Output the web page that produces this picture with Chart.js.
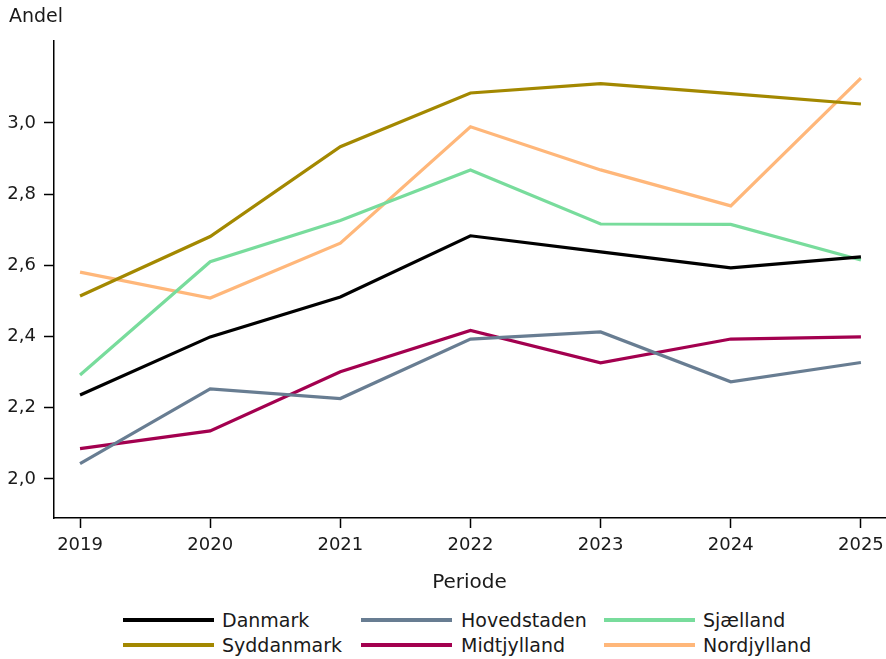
<!DOCTYPE html>
<html>
<head>
<meta charset="utf-8">
<script src="https://cdn.jsdelivr.net/npm/chart.js@4/dist/chart.umd.min.js"></script>
<style>
  html, body { margin: 0; padding: 0; background: #fff; }
  body { width: 886px; height: 659px; position: relative; overflow: hidden; font-family: "DejaVu Sans", sans-serif; color: #1a1a1a; }
  #wrap { position: absolute; left: 0; top: 0; width: 886px; height: 600px; }
  #ytitle { position: absolute; left: 9px; top: 3px; font-size: 19px; line-height: 24px; }
  .lg { position: absolute; font-size: 19px; line-height: 24px; white-space: nowrap; }
  .lg .sw { position: absolute; left: 0; top: -2px; height: 4px; width: 91px; }
  .lg .tx { position: absolute; top: -12px; }
</style>
</head>
<body>
<div id="wrap"><canvas id="c" width="886" height="600"></canvas></div>
<div id="ytitle">Andel</div>
<div id="legend"></div>
<script>
const years = [2019, 2020, 2021, 2022, 2023, 2024, 2025];
const yTickValues = [2.0, 2.2, 2.4, 2.6, 2.8, 3.0];

const danmark     = [2.236, 2.399, 2.511, 2.683, 2.638, 2.593, 2.624];
const hovedstaden = [2.043, 2.253, 2.226, 2.393, 2.413, 2.273, 2.327];
const sjaelland   = [2.292, 2.610, 2.726, 2.868, 2.716, 2.715, 2.615];
const syddanmark  = [2.514, 2.681, 2.933, 3.084, 3.110, 3.082, 3.053];
const midtjylland = [2.085, 2.135, 2.301, 2.417, 2.326, 2.393, 2.399];
const nordjylland = [2.581, 2.508, 2.662, 2.989, 2.868, 2.767, 3.126];

const seriesNames = ["Danmark", "Hovedstaden", "Sjælland", "Syddanmark", "Midtjylland", "Nordjylland"];
const seriesValues = [danmark, hovedstaden, sjaelland, syddanmark, midtjylland, nordjylland];
const seriesColors = ["#000000", "#687d92", "#78dc9c", "#a38800", "#a3004f", "#ffb77a"];

const datasets = seriesNames.map((name, i) => ({
  label: name,
  data: years.map((yr, j) => ({ x: yr, y: seriesValues[i][j] })),
  borderColor: seriesColors[i],
  backgroundColor: seriesColors[i],
  borderWidth: 3.2,
  pointRadius: 0,
  tension: 0,
  fill: false,
  order: i
}));

const tickFont = { family: "DejaVu Sans", size: 18 };
const titleFont = { family: "DejaVu Sans", size: 20 };

new Chart(document.getElementById('c'), {
  type: 'line',
  data: { datasets },
  options: {
    responsive: false,
    animation: false,
    layout: { padding: { left: 0, right: 1, top: 41, bottom: 5 } },
    plugins: { legend: { display: false }, tooltip: { enabled: false } },
    scales: {
      x: {
        type: 'linear',
        min: 2018.8,
        max: 2025.185,
        afterBuildTicks: s => { s.ticks = years.map(v => ({ value: v })); },
        afterFit: s => { s.height = 77; s.paddingLeft = 0; s.paddingRight = 0; },
        ticks: { color: '#1a1a1a', font: tickFont, padding: 7, callback: v => String(v), maxRotation: 0 },
        grid: { drawOnChartArea: false, drawTicks: true, tickLength: 10, color: '#000', tickWidth: 1.5 },
        border: { color: '#000', width: 1.5 },
        title: { display: true, text: 'Periode', color: '#1a1a1a', font: titleFont, padding: { top: 4, bottom: 0 } }
      },
      y: {
        type: 'linear',
        min: 1.8904,
        max: 3.230,
        afterBuildTicks: s => { s.ticks = yTickValues.map(v => ({ value: v })); },
        afterFit: s => { s.width = 54; s.paddingTop = 0; s.paddingBottom = 0; },
        ticks: { color: '#1a1a1a', font: tickFont, padding: 8, callback: v => v.toFixed(1).replace('.', ',') },
        grid: { drawOnChartArea: false, drawTicks: true, tickLength: 10, color: '#000', tickWidth: 1.5 },
        border: { color: '#000', width: 1.5 }
      }
    }
  }
});

// HTML legend built from the series arrays
const legendSwatchX = [123, 361, 604];
const legendTextX = [222, 461, 703];
const legendRowY = [620, 645];
const legendOrder = ["Danmark", "Hovedstaden", "Sjælland", "Syddanmark", "Midtjylland", "Nordjylland"];
const lg = document.getElementById('legend');
legendOrder.forEach((name, k) => {
  const i = seriesNames.indexOf(name);
  const col = k % 3, row = Math.floor(k / 3);
  const el = document.createElement('div');
  el.className = 'lg';
  el.style.left = legendSwatchX[col] + 'px';
  el.style.top = legendRowY[row] + 'px';
  el.innerHTML = '<div class="sw" style="background:' + seriesColors[i] + '"></div><div class="tx" style="left:' +
    (legendTextX[col] - legendSwatchX[col]) + 'px">' + name + '</div>';
  lg.appendChild(el);
});
</script>
</body>
</html>
